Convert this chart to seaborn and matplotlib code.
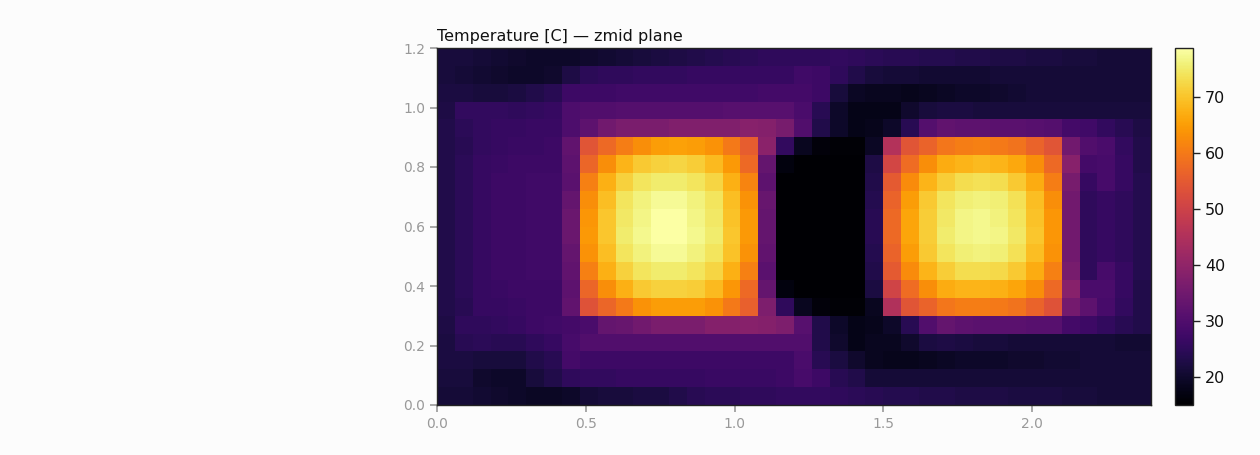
"""
plot.py
Temperature slice (zmid plane) drawn as a seaborn heatmap. Saved as out.png.
"""

import numpy as np
import matplotlib
matplotlib.use("Agg")
import matplotlib.pyplot as plt
import seaborn as sns

# cell values in deg C, top row (y = 1.2) first
row_00 = [21.5,21.5,21,20.5,20,19.5,19.5,19.5,20,20.5,21,21.5,22,22.5,23,23.5,24,24.5,25,25,25,25,25.5,25,24.5,24,24,23.5,23.5,23,23,22.5,22.5,22,22,21.5,21.5,21,21,21]
row_01 = [21.5,21,20.5,20,19.5,19.5,20,22.5,24.5,25,25,25.5,25.5,25.5,26,26,26,26,26,26,27.5,27,25,23,21.5,21,21,20.5,20.5,20.5,20.5,21,21,21,21,21,21,21,21,21]
row_02 = [22,22,21.5,21.5,22,23,24,27,27,27,27.5,27.5,27.5,27.5,27.5,27.5,27.5,27.5,28,28,28,27,21.5,19,18.5,18.5,18,18.5,19,19.5,19.5,20,20.5,21,21,21,21,21,21,21]
row_03 = [22.5,25.5,25.5,25.5,25,25.5,26,29.5,30,30,30.5,30.5,30.5,30.5,30.5,30.5,31,31,31,31,29,24,19.5,17.5,17.5,17.5,20,21.5,22,22,21.5,21.5,21.5,21.5,21.5,21.5,21.5,21.5,21.5,21.5]
row_04 = [23,24.5,25.5,26,26,26.5,26.5,29.5,32,35,36.5,36.5,36.5,37.5,37.5,37.5,37.5,38.5,38,36,30,23,19.5,17.5,18,19.5,24,30.5,32.5,32,32,31.5,31.5,31,30.5,28,27.5,25.5,24,22.5]
row_05 = [23,24,25.5,26,26.5,26.5,27,32.5,54,57.5,60.5,63,65,65.5,65,63.5,60,55.5,39,25.5,18.5,16,15.5,15.5,19,45.5,54,56.5,59.5,60.5,61,60,59,56.5,54,35,30,29,25.5,23]
row_06 = [23,24.5,26,26.5,27,27,27,32,57,63,68,70.5,71.5,72,71,68.5,64.5,57.5,33,16.5,15.2,15.2,15.2,15.2,22.5,51,58,63,67,68,68.5,68,66.5,63,57.5,38.5,28,28.5,26,23]
row_07 = [23,24.5,26,27,27,27.5,27.5,31.5,61,67.5,71.5,74,75,75,74,72,67.5,61.5,32,15.2,15.2,15.2,15.2,15.2,23,55,62.5,68,71,73,73.5,73,70.5,67,60.5,36,26,28.5,26,23.5]
row_08 = [23,24.5,26,27,27,27.5,27.5,33,63,69,74,76,77.5,77.5,76,74,69,63.5,33.5,15.2,15.2,15.2,15.2,15.2,23.5,56.5,65,70.5,74,75.5,76,75.5,73.5,69,63,35,25,26,25,23.5]
row_09 = [23,24.5,26,27,27,27.5,27.5,34,64,70,74.5,76.5,78.5,78.5,76.5,74.5,69.5,64.5,33,15.2,15.2,15.2,15.2,15.2,24,57.5,66,71,74.5,76.5,77,76,74,69.5,64,35,25,26,25,23.5]
row_10 = [23,24.5,26,27,27,27.5,27.5,34,64.5,70,75,77,78.7,78.7,77,75,70,64.5,33,15.2,15.2,15.2,15.2,15.2,24,57.5,66,71,75,76.5,77,76.5,74.5,70,64,35,25,26,25,23.5]
row_11 = [23,24.5,26,27,27,27.5,27.5,33,63.5,69,74,76,77.5,77.5,76,74,69.5,63.5,32.5,15.2,15.2,15.2,15.2,15.2,23.5,56.5,65,70.5,74,75.5,76,75.5,73.5,69,63.5,35,25,26,25,23.5]
row_12 = [23,24.5,26,27,27,27.5,27.5,32.5,61,67.5,71.5,74,75,75,74,72,67.5,61,31.5,15.2,15.2,15.2,15.2,15.2,23,55,62.5,68,71,73,73,72.5,70.5,67,61,36,25,28.5,26,23.5]
row_13 = [23,24.5,26,26.5,27,27,27,32,57,63,67.5,70.5,71.5,71.5,71,68.5,64,57.5,33,16.5,15.2,15.2,15.2,15.2,22,50.5,58,63,67,68,68,67.5,66,63,57.5,38.5,29,29,26,23]
row_14 = [23,24,26,26,26.5,27,27,32.5,53.5,57,60,63.5,65,65,65,63.5,60,56,37,25,18.5,16,15.5,15.5,18.5,45,54,56.5,59.5,60.5,60.5,60,59,56.5,53.5,35.5,32,28.5,25.5,23]
row_15 = [22.5,25,25,25.5,26,27,27.5,28,29,33,33.5,35,36.5,36.5,36.5,38,38,38.5,38,37,31,23,19.5,17.5,18,19.5,24,30,33,32,31.5,31.5,31.5,31,31,28,27,25.5,24,23]
row_16 = [22,24,24.5,24,24,25,26,28.5,30,30,30,30,30,30,30,30,30,30,30,30,30,23,20,17.5,18.5,18.5,20,22,22.5,22,21.5,21.5,21,21,21,21,21,21,20.5,20.5]
row_17 = [22,22,21.5,21.5,21.5,23,24,28,27,27,27,27,27,27,27,27,27,27,27,27,29,24,22,20,18.5,18,18,18.5,19,19.5,19.5,19.5,20,20,20.5,20.5,21,21,21,21]
row_18 = [21.5,21.5,20,19.5,19.5,21.5,23,25,25.5,25.5,26,26,26,26,26,26.5,26.5,26.5,26.5,27,28.5,27,24,23,21,21,21,21,21,21,21,21,21,21,21,21,21,21,21,21]
row_19 = [21,21,20.5,20,19.5,19,19,19.5,21,21.5,21.5,22,22,23,24,24.5,24.5,25,25,25.5,25.5,25.5,25,24.5,24,23.5,23.5,23,23,22.5,22.5,22.5,22,22,22,21.5,21.5,21,21,21]

x_ticks = [0.0, 0.5, 1.0, 1.5, 2.0]
y_ticks = [0.0, 0.2, 0.4, 0.6, 0.8, 1.0, 1.2]
cbar_ticks = [20, 30, 40, 50, 60, 70]

x_max = 2.4
y_max = 1.2
temp_min = 15.0
temp_max = 78.7

BG = "#fcfcfc"
GREY = "#999999"

grid = np.array([row_00, row_01, row_02, row_03, row_04, row_05, row_06, row_07, row_08, row_09,
                 row_10, row_11, row_12, row_13, row_14, row_15, row_16, row_17, row_18, row_19])
n_rows, n_cols = grid.shape

W, H = 1260, 455
fig = plt.figure(figsize=(W / 100, H / 100), dpi=100, facecolor=BG)
ax = fig.add_axes([437 / W, 1 - 405 / H, 714 / W, 357 / H])
cax = fig.add_axes([1175 / W, 1 - 405 / H, 18 / W, 357 / H])

sns.heatmap(grid, ax=ax, cbar_ax=cax, cmap="inferno", vmin=temp_min, vmax=temp_max,
            xticklabels=False, yticklabels=False, cbar_kws={"ticks": cbar_ticks})

# heatmap works in cell indices, so convert the physical ticks
ax.set_xticks([v / x_max * n_cols for v in x_ticks])
ax.set_xticklabels([f"{v:.1f}" for v in x_ticks], rotation=0)
ax.set_yticks([(y_max - v) / y_max * n_rows for v in y_ticks])
ax.set_yticklabels([f"{v:.1f}" for v in y_ticks], rotation=0)
ax.tick_params(axis="both", length=5, width=1.2, color=GREY, labelcolor=GREY, labelsize=10, pad=3.5)

for spine in ax.spines.values():
    spine.set_visible(True)
    spine.set_color("#222222")
    spine.set_linewidth(1.0)

ax.set_title("Temperature [C] \u2014 zmid plane", loc="left", fontsize=11.5, color="#111111", pad=5)

cbar = ax.collections[0].colorbar
cbar.outline.set_visible(True)
cbar.outline.set_edgecolor("#222222")
cbar.outline.set_linewidth(1.0)
cax.tick_params(length=5, width=1.0, color="#222222", labelcolor="#111111", labelsize=11.5, pad=3.5)

fig.savefig("out.png", dpi=100, facecolor=BG)
